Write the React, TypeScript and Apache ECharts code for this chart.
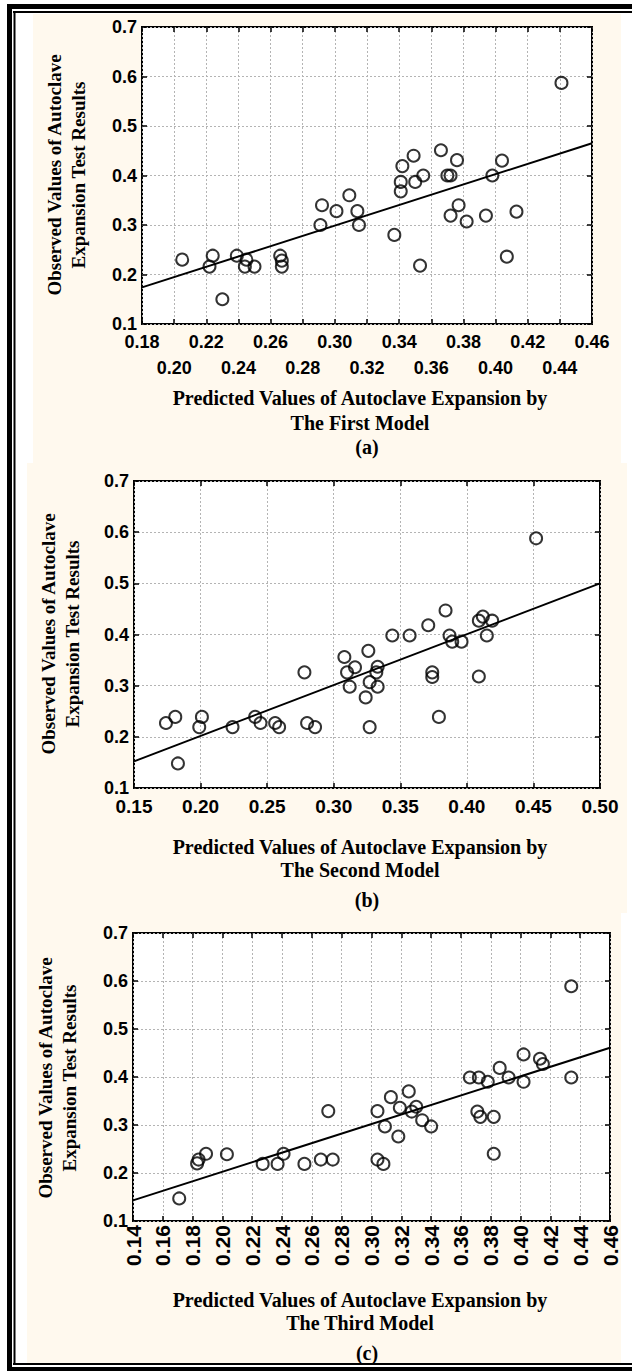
import React, { useEffect, useRef } from "react";
import * as echarts from "echarts";

// ---- Panel (a): First model ----
const predA = [0.205, 0.222, 0.224, 0.230, 0.239, 0.245, 0.244, 0.250, 0.266, 0.267, 0.267, 0.291, 0.292, 0.301, 0.309, 0.314, 0.315, 0.337, 0.341, 0.341, 0.342, 0.349, 0.350, 0.353, 0.355, 0.366, 0.370, 0.372, 0.372, 0.376, 0.377, 0.382, 0.394, 0.398, 0.404, 0.407, 0.413, 0.441];
const obsA = [0.230, 0.216, 0.238, 0.150, 0.238, 0.230, 0.216, 0.216, 0.238, 0.228, 0.216, 0.300, 0.340, 0.328, 0.360, 0.328, 0.300, 0.280, 0.387, 0.368, 0.419, 0.440, 0.387, 0.218, 0.400, 0.451, 0.400, 0.400, 0.319, 0.431, 0.340, 0.307, 0.319, 0.400, 0.430, 0.236, 0.327, 0.587];
const fitAX = [0.18, 0.46];
const fitAY = [0.174, 0.465];
const xTicksA = [0.18, 0.46, 0.02];

// ---- Panel (b): Second model ----
const predB = [0.174, 0.181, 0.183, 0.199, 0.201, 0.224, 0.241, 0.245, 0.256, 0.259, 0.278, 0.280, 0.286, 0.308, 0.310, 0.312, 0.316, 0.326, 0.324, 0.327, 0.327, 0.332, 0.333, 0.333, 0.344, 0.357, 0.371, 0.374, 0.374, 0.379, 0.384, 0.387, 0.389, 0.396, 0.409, 0.409, 0.412, 0.415, 0.419, 0.452];
const obsB = [0.227, 0.239, 0.148, 0.219, 0.239, 0.219, 0.239, 0.227, 0.227, 0.219, 0.326, 0.227, 0.219, 0.356, 0.326, 0.298, 0.336, 0.368, 0.277, 0.307, 0.219, 0.326, 0.337, 0.298, 0.398, 0.398, 0.418, 0.326, 0.317, 0.239, 0.447, 0.398, 0.386, 0.386, 0.318, 0.427, 0.435, 0.398, 0.427, 0.588];
const fitBX = [0.15, 0.5];
const fitBY = [0.152, 0.5];
const xTicksB = [0.15, 0.5, 0.05];

// ---- Panel (c): Third model ----
const predC = [0.171, 0.183, 0.184, 0.189, 0.203, 0.227, 0.237, 0.241, 0.255, 0.266, 0.274, 0.271, 0.304, 0.304, 0.308, 0.309, 0.313, 0.318, 0.319, 0.325, 0.327, 0.330, 0.334, 0.340, 0.366, 0.372, 0.371, 0.373, 0.378, 0.382, 0.382, 0.386, 0.392, 0.402, 0.402, 0.413, 0.415, 0.434, 0.434];
const obsC = [0.147, 0.220, 0.228, 0.240, 0.239, 0.219, 0.219, 0.240, 0.219, 0.228, 0.228, 0.329, 0.329, 0.228, 0.219, 0.297, 0.358, 0.276, 0.336, 0.370, 0.328, 0.338, 0.310, 0.297, 0.399, 0.399, 0.328, 0.317, 0.390, 0.317, 0.240, 0.419, 0.399, 0.447, 0.390, 0.438, 0.427, 0.589, 0.399];
const fitCX = [0.14, 0.46];
const fitCY = [0.143, 0.461];
const xTicksC = [0.14, 0.46, 0.02];

const yTicks = [0.1, 0.7, 0.1];

const yName1 = "Observed Values of Autoclave";
const yName2 = "Expansion Test Results";
const xNameLine1 = "Predicted Values of Autoclave Expansion by";
const modelNames = ["The First Model", "The Second Model", "The Third Model"];
const panelTags = ["(a)", "(b)", "(c)"];

const SANS = "'Liberation Sans', Arial, sans-serif";
const SERIF = "'Liberation Serif', 'Times New Roman', serif";

const zip = (xs: number[], ys: number[]) => xs.map((x, i) => [x, ys[i]]);

export default function App() {
  const ref = useRef<HTMLDivElement>(null);

  useEffect(() => {
    document.body.style.margin = "0";
    if (!ref.current) return;
    const chart = echarts.init(ref.current, undefined, { renderer: "svg" });

    const grids = [
      { left: 142, top: 27, width: 450, height: 297 },
      { left: 134, top: 481, width: 466, height: 307 },
      { left: 133, top: 933, width: 477, height: 288 },
    ];
    const xt = [xTicksA, xTicksB, xTicksC];

    const tick = { show: true, inside: true, length: 5, lineStyle: { color: "#000", width: 1.5 } };
    const split = { show: true, lineStyle: { color: "#b4b4b4", type: [2, 2] as any, width: 1 } };

    const xAxes: any[] = [];
    const yAxes: any[] = [];
    const mainX: number[] = [];
    const mainY: number[] = [];
    grids.forEach((g, i) => {
      const [mn, mx, iv] = xt[i];
      const label: any = {
        show: true,
        color: "#000",
        fontFamily: SANS,
        fontWeight: "bold",
        fontSize: i === 2 ? 21 : i === 1 ? 19 : 18,
        margin: i === 2 ? 4 : 9,
        showMinLabel: true,
        showMaxLabel: true,
        hideOverlap: false,
      };
      if (i === 0) {
        label.formatter = (v: number, idx: number) => (idx % 2 === 0 ? v.toFixed(2) : "");
      } else {
        label.formatter = (v: number) => v.toFixed(2);
      }
      if (i === 2) label.rotate = 90;
      mainX.push(xAxes.length);
      xAxes.push({
        type: "value", gridIndex: i, position: "bottom", min: mn, max: mx, interval: iv,
        axisLine: { show: false }, axisTick: tick, axisLabel: label, splitLine: split,
      });
      if (i === 0) {
        // second (staggered) row of tick labels for panel (a)
        xAxes.push({
          type: "value", gridIndex: i, position: "bottom", min: mn, max: mx, interval: iv,
          axisLine: { show: false }, axisTick: { show: false }, splitLine: { show: false },
          axisLabel: {
            ...label,
            margin: 35,
            formatter: (v: number, idx: number) => (idx % 2 === 1 ? v.toFixed(2) : ""),
          },
        });
      }
      xAxes.push({
        type: "value", gridIndex: i, position: "top", min: mn, max: mx, interval: iv,
        axisLine: { show: false }, axisTick: tick, axisLabel: { show: false }, splitLine: { show: false },
      });
      mainY.push(yAxes.length);
      yAxes.push({
        type: "value", gridIndex: i, position: "left", min: yTicks[0], max: yTicks[1], interval: yTicks[2],
        axisLine: { show: false }, axisTick: tick, splitLine: split,
        axisLabel: {
          show: true, color: "#000", fontFamily: SANS, fontWeight: "bold", fontSize: 18, margin: 5,
          showMinLabel: true, showMaxLabel: true,
          formatter: (v: number) => v.toFixed(1),
        },
      });
      yAxes.push({
        type: "value", gridIndex: i, position: "right", min: yTicks[0], max: yTicks[1], interval: yTicks[2],
        axisLine: { show: false }, axisTick: tick, axisLabel: { show: false }, splitLine: { show: false },
      });
    });

    const scatterData = [zip(predA, obsA), zip(predB, obsB), zip(predC, obsC)];
    const fitData = [zip(fitAX, fitAY), zip(fitBX, fitBY), zip(fitCX, fitCY)];
    const series: any[] = [];
    grids.forEach((_, i) => {
      series.push({
        type: "line", xAxisIndex: mainX[i], yAxisIndex: mainY[i], data: fitData[i],
        symbol: "none", lineStyle: { color: "#000", width: 2 }, z: 3,
      });
      series.push({
        type: "scatter", xAxisIndex: mainX[i], yAxisIndex: mainY[i], data: scatterData[i],
        symbol: "circle", symbolSize: 12,
        itemStyle: { color: "rgba(255,255,255,0)", borderColor: "#000", borderWidth: 2 }, z: 4,
      });
    });

    const cream = "#FFF9EE";
    const graphics: any[] = [
      { type: "rect", z: -10, shape: { x: 33, y: 14, width: 588, height: 449 }, style: { fill: cream } },
      { type: "rect", z: -10, shape: { x: 27, y: 463, width: 600, height: 450 }, style: { fill: cream } },
      { type: "rect", z: -10, shape: { x: 27, y: 913, width: 594, height: 450 }, style: { fill: cream } },
      // frame
      { type: "rect", z: 10, shape: { x: 7, y: 4, width: 625, height: 5 }, style: { fill: "#000" } },
      { type: "rect", z: 10, shape: { x: 13, y: 11, width: 619, height: 2 }, style: { fill: "#000" } },
      { type: "rect", z: 10, shape: { x: 7, y: 4, width: 5, height: 1367 }, style: { fill: "#000" } },
      { type: "rect", z: 10, shape: { x: 13.5, y: 11, width: 2, height: 1354 }, style: { fill: "#000" } },
      { type: "rect", z: 10, shape: { x: 13, y: 1363, width: 619, height: 2 }, style: { fill: "#000" } },
      { type: "rect", z: 10, shape: { x: 7, y: 1367, width: 625, height: 4 }, style: { fill: "#000" } },
    ];

    const yLabelPos = [
      { x: 66, y: 175 },
      { x: 60, y: 634 },
      { x: 57, y: 1078 },
    ];
    const titleY = [
      [398, 423, 447],
      [847, 870, 900],
      [1300, 1323, 1353],
    ];
    grids.forEach((_, i) => {
      graphics.push({
        type: "text", x: yLabelPos[i].x, y: yLabelPos[i].y, rotation: Math.PI / 2,
        style: {
          text: yName1 + "\n" + yName2, fill: "#000", font: `bold 19px ${SERIF}`,
          align: "center", verticalAlign: "middle", lineHeight: 24,
        },
      });
      const lines = [xNameLine1, modelNames[i], panelTags[i]];
      lines.forEach((t, k) => {
        graphics.push({
          type: "text", x: k === 2 ? 367 : 360, y: titleY[i][k],
          style: { text: t, fill: "#000", font: `bold 20px ${SERIF}`, align: "center", verticalAlign: "middle" },
        });
      });
    });

    chart.setOption({
      animation: false,
      backgroundColor: "#fff",
      grid: grids.map((g) => ({
        ...g, show: true, backgroundColor: "#fff", borderColor: "#000", borderWidth: 2, containLabel: false,
      })),
      xAxis: xAxes,
      yAxis: yAxes,
      series,
      graphic: graphics,
    });

    return () => chart.dispose();
  }, []);

  return <div ref={ref} style={{ width: 632, height: 1371 }} />;
}
